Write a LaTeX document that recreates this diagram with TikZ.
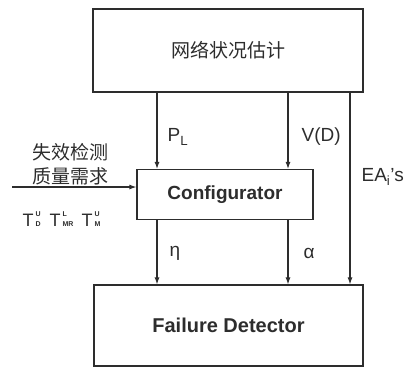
\documentclass[tikz,border=0pt]{standalone}
\usepackage{fontspec}
\setmainfont{Liberation Sans}
\newfontfamily\cjk{Noto Sans CJK SC}
\usepackage{tikz}
\usetikzlibrary{arrows.meta, positioning, calc}
\definecolor{linegray}{RGB}{45, 45, 45}

\begin{document}
\begin{tikzpicture}[
    x=1pt, y=-1pt,
    line width=1.2pt, draw=linegray,
    box/.style={rectangle, draw=linegray, line width=1.2pt, fill=white, inner sep=0pt, minimum width=#1},
    lbl/.style={font=\fontsize{19}{22}\selectfont, text=linegray, inner sep=0pt},
    cjklbl/.style={font=\fontsize{19}{24}\selectfont\cjk, text=linegray, inner sep=0pt},
    tlbl/.style={font=\fontsize{18}{20}\selectfont, text=linegray, inner sep=0pt, anchor=base west},
    idx/.style={font=\fontsize{7}{7.5}\selectfont\bfseries, text=linegray, inner sep=0pt, anchor=base west},
    arr/.style={-{Latex[length=7pt, width=5pt]}, draw=linegray, line width=1.1pt}
]
\useasboundingbox (0,0) rectangle (412,368);

% Boxes
\node[box=270pt, minimum height=83pt, cjklbl] (est) at (228,50.5) {网络状况估计};
\node[box=176pt, minimum height=50pt, lbl, font=\fontsize{19}{22}\selectfont\bfseries] (conf) at (225,194.5) {Configurator};
\node[box=269pt, minimum height=81pt, lbl, font=\fontsize{20}{24}\selectfont\bfseries] (fd) at (228.5,325.5) {Failure Detector};

% Arrow columns
\coordinate (cl) at (157,0);
\coordinate (cr) at (288,0);
\coordinate (ce) at (350,0);
\coordinate (req) at (12,187);

% Arrows
\draw[arr] (est.south -| cl) -- (conf.north -| cl);
\draw[arr] (est.south -| cr) -- (conf.north -| cr);
\draw[arr] (conf.south -| cl) -- (fd.north -| cl);
\draw[arr] (conf.south -| cr) -- (fd.north -| cr);
\draw[arr] (est.south -| ce) -- (fd.north -| ce);
\draw[arr] (req) -- (req -| conf.west);

% Labels
\node[lbl, anchor=west] (pl) at (167,137) {P\textsubscript{L}};
\node[lbl, anchor=west] (vd) at (301,137) {V(D)};
\node[lbl, anchor=west] (ea) at (361,177) {EA\textsubscript{i}'s};
\node[lbl] (eta) at (175,253) {η};
\node[lbl] (alpha) at (309,253) {α};
\node[cjklbl, align=center] (qos) at (70,164) {失效检测\\质量需求};

% Thresholds
\node[tlbl] (td) at (22,226) {T};
\node[idx] (tdu) at (35,216.5) {U};
\node[idx] (tdd) at (35,226.5) {D};
\node[tlbl] (tmr) at (49,226) {T};
\node[idx] (tmrl) at (62,216.5) {L};
\node[idx] (tmrd) at (62,226.5) {MR};
\node[tlbl] (tm) at (81,226) {T};
\node[idx] (tmu) at (94,216.5) {U};
\node[idx] (tmd) at (94,226.5) {M};

\end{tikzpicture}
\end{document}
